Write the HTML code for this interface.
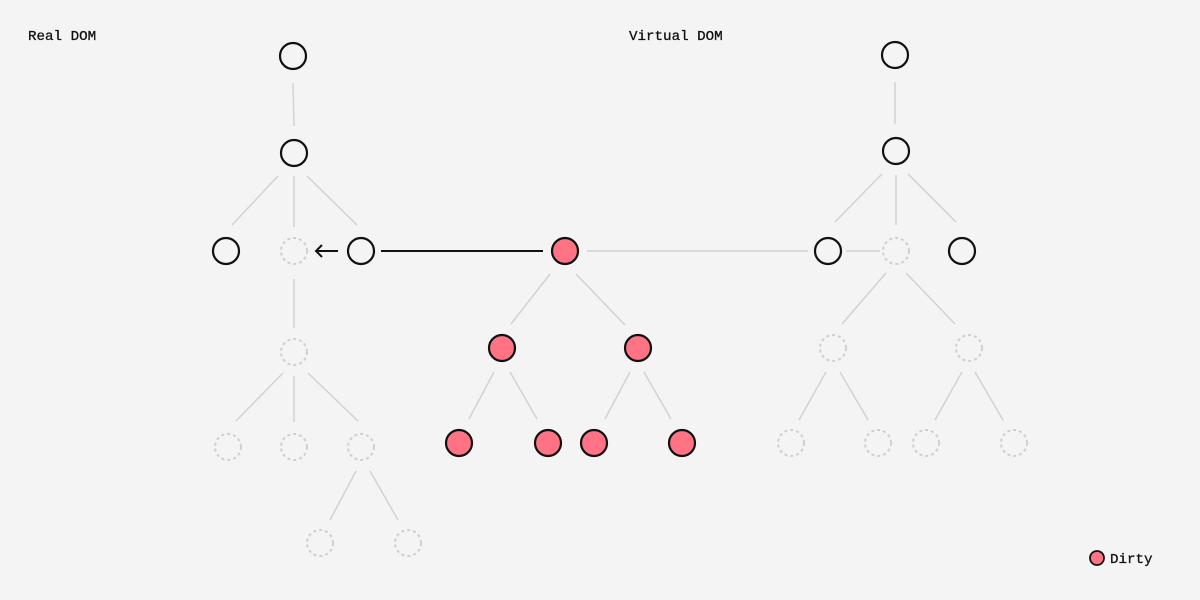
<!DOCTYPE html>
<html><head><style>
html,body{margin:0;padding:0;background:#f4f4f4;}
svg{display:block;}
text{font-family:"Liberation Mono",monospace;font-size:14.2px;fill:#111;stroke:#111;stroke-width:0.3;}
</style></head><body>
<svg width="1200" height="600" viewBox="0 0 1200 600">
<rect width="1200" height="600" fill="#f4f4f4"/>
<text x="28" y="40">Real DOM</text>
<text x="629" y="40">Virtual DOM</text>
<g stroke="#d2d2d2" stroke-width="1.5" fill="none">
<line x1="293" y1="83" x2="294" y2="126"/>
<line x1="278" y1="176" x2="232" y2="225"/>
<line x1="294" y1="176" x2="294" y2="227"/>
<line x1="307" y1="176" x2="357" y2="225"/>
<line x1="294" y1="279" x2="294" y2="328"/>
<line x1="283" y1="373" x2="236" y2="421"/>
<line x1="294" y1="376" x2="294" y2="422"/>
<line x1="308" y1="373" x2="358" y2="421"/>
<line x1="356" y1="471" x2="330" y2="520"/>
<line x1="370" y1="471" x2="398" y2="520"/>
<line x1="550" y1="274" x2="511" y2="324"/>
<line x1="576" y1="274" x2="625" y2="325"/>
<line x1="494" y1="372" x2="469" y2="419"/>
<line x1="510" y1="372" x2="537" y2="419"/>
<line x1="630" y1="372" x2="605" y2="419"/>
<line x1="644" y1="372" x2="671" y2="419"/>
<line x1="895" y1="82" x2="895" y2="124"/>
<line x1="882" y1="174" x2="835" y2="222"/>
<line x1="896" y1="175" x2="896" y2="225"/>
<line x1="908" y1="174" x2="956" y2="222"/>
<line x1="886" y1="273" x2="842" y2="324"/>
<line x1="906" y1="273" x2="955" y2="324"/>
<line x1="826" y1="372" x2="799" y2="420"/>
<line x1="840" y1="372" x2="868" y2="420"/>
<line x1="962" y1="372" x2="935" y2="420"/>
<line x1="975" y1="372" x2="1003" y2="420"/>
<line x1="587" y1="251" x2="808" y2="251"/>
<line x1="846" y1="251" x2="880" y2="251"/>
</g>
<g stroke="#111" stroke-width="2" fill="none">
<line x1="381" y1="251" x2="543" y2="251"/>
<line x1="316" y1="251" x2="338" y2="251"/>
<polyline points="322,245 316,251 322,257"/>
</g>
<g stroke="#111" stroke-width="2.2" fill="#f4f4f4">
<circle cx="293" cy="56" r="13"/>
<circle cx="294" cy="153" r="13"/>
<circle cx="226" cy="251" r="13"/>
<circle cx="361" cy="251" r="13"/>
<circle cx="895" cy="55" r="13"/>
<circle cx="896" cy="151" r="13"/>
<circle cx="828" cy="251" r="13"/>
<circle cx="962" cy="251" r="13"/>
</g>
<g stroke="#111" stroke-width="2.2" fill="#ff7385">
<circle cx="565" cy="251" r="13"/>
<circle cx="502" cy="348" r="13"/>
<circle cx="638" cy="348" r="13"/>
<circle cx="459" cy="443" r="13"/>
<circle cx="548" cy="443" r="13"/>
<circle cx="594" cy="443" r="13"/>
<circle cx="682" cy="443" r="13"/>
<circle cx="1097" cy="558" r="7" stroke-width="1.8"/>
</g>
<g stroke="#cfcfcf" stroke-width="2" fill="none" stroke-dasharray="3 3">
<circle cx="294" cy="251" r="13"/>
<circle cx="294" cy="352" r="13"/>
<circle cx="228" cy="447" r="13"/>
<circle cx="294" cy="447" r="13"/>
<circle cx="361" cy="447" r="13"/>
<circle cx="320" cy="543" r="13"/>
<circle cx="408" cy="543" r="13"/>
<circle cx="896" cy="251" r="13"/>
<circle cx="833" cy="348" r="13"/>
<circle cx="969" cy="348" r="13"/>
<circle cx="791" cy="443" r="13"/>
<circle cx="878" cy="443" r="13"/>
<circle cx="926" cy="443" r="13"/>
<circle cx="1014" cy="443" r="13"/>
</g>
<text x="1110" y="563">Dirty</text>
</svg>
</body></html>
